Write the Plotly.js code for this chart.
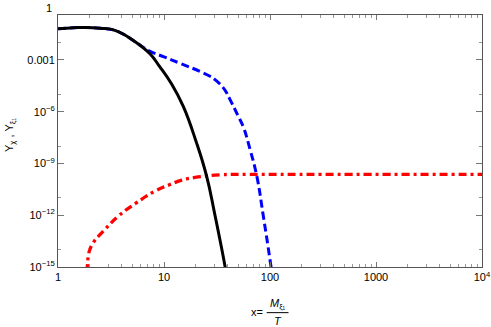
<!DOCTYPE html>
<html>
<head>
<meta charset="utf-8">
<script src="https://cdn.plot.ly/plotly-3.0.1.min.js"></script>
<style>html,body{margin:0;padding:0;background:#fff;}#chart{width:491px;height:327px;}</style>
</head>
<body>
<div id="chart"></div>
<script>
// Black solid curve (equilibrium abundance)
const blackX = [1, 1.4, 1.8, 2.5, 3.5, 5.3, 7.4, 9, 11.8, 15.2, 20, 25.2, 30, 37.6, 39];
const blackY = [0.063, 0.072, 0.076, 0.068, 0.05, 0.0117, 2.2e-3, 4.5e-4, 4e-5, 2e-6, 2e-8, 1.9e-10, 1.3e-12, 1.15e-15, 3e-16];

// Blue dashed curve
const blueX = [1, 1.4, 1.8, 2.5, 3.5, 5.3, 6.2, 7.4, 10, 14.2, 22, 27.2, 30.5, 33.7, 38, 42, 50.2, 56, 64.8, 75, 86.5, 102, 105];
const blueY = [0.063, 0.072, 0.076, 0.068, 0.05, 0.0117, 6.0e-3, 3.1e-3, 1.5e-3, 6.3e-4, 2.1e-4, 1.12e-4, 7e-5, 4e-5, 1.6e-5, 5e-6, 5.4e-7, 1.3e-7, 6.5e-9, 1.9e-10, 8.9e-13, 1.15e-15, 3e-16];

// Red dash-dot curve
const redX = [1.862, 1.892, 1.932, 1.995, 2.153, 2.773, 3.707, 5.433, 8.222, 11.40, 14.69, 21.88, 33.88, 63.1, 316, 10000];
const redY = [5e-16, 1.15e-15, 4.4e-15, 1e-14, 2.6e-14, 1.5e-13, 8.9e-13, 5e-12, 2.5e-11, 6e-11, 1.07e-10, 1.7e-10, 2.2e-10, 2.3e-10, 2.3e-10, 2.3e-10];

// Tick labels
const xTickVals = [1, 10, 100, 1000, 10000];
const xTickText = ['1', '10', '100', '1000', '10<sup>4</sup>'];
const yTickVals = [1e-3, 1e-6, 1e-9, 1e-12, 1e-15];
const yTickText = ['0.001', '10<sup>−6</sup>', '10<sup>−9</sup>', '10<sup>−12</sup>', '10<sup>−15</sup>'];
const xMinor = [];
[1, 10, 100, 1000].forEach(d => { for (let k = 2; k <= 9; k++) xMinor.push(d * k); });
const yMinor = [1e-2, 1e-5, 1e-8, 1e-11, 1e-14];

const traces = [
  {x: blueX, y: blueY, mode: 'lines', line: {color: '#0000ff', width: 3, dash: '8px,4px', shape: 'spline', smoothing: 1.3}, cliponaxis: true},
  {x: redX, y: redY, mode: 'lines', line: {color: '#ff0000', width: 3.3, dash: '8px,4px,3px,4px', shape: 'spline', smoothing: 1.3}, cliponaxis: true},
  {x: blackX, y: blackY, mode: 'lines', line: {color: '#000000', width: 3, shape: 'spline', smoothing: 1.3}, cliponaxis: true}
];

const FONT = 'Liberation Sans, Arial, sans-serif';
const yr = [-15, -0.4];
const layout = {
  width: 491, height: 327,
  margin: {l: 58, r: 9, t: 15, b: 60},
  paper_bgcolor: '#fff', plot_bgcolor: '#fff',
  showlegend: false,
  font: {family: FONT, size: 11, color: '#000'},
  xaxis: {
    type: 'log', range: [0, 4], showgrid: false, zeroline: false,
    showline: true, linecolor: '#555', linewidth: 1, mirror: 'ticks',
    ticks: 'inside', ticklen: 5, tickcolor: '#777', tickwidth: 1,
    tickvals: xTickVals, ticktext: xTickText,
    tickfont: {family: FONT, size: 11, color: '#000'},
    minor: {tickvals: xMinor, ticks: 'inside', ticklen: 3, tickcolor: '#999', tickwidth: 1, showgrid: false}
  },
  yaxis: {
    type: 'log', range: yr, showgrid: false, zeroline: false,
    showline: true, linecolor: '#555', linewidth: 1, mirror: 'ticks',
    ticks: 'inside', ticklen: 6, tickcolor: '#777', tickwidth: 1,
    tickvals: yTickVals, ticktext: yTickText,
    tickfont: {family: FONT, size: 11, color: '#000'},
    minor: {tickvals: yMinor, ticks: 'inside', ticklen: 3, tickcolor: '#999', tickwidth: 1, showgrid: false}
  },
  annotations: [
    {text: '1', xref: 'paper', yref: 'paper', x: 0, y: (0 - yr[0]) / (yr[1] - yr[0]), xanchor: 'right', yanchor: 'middle', xshift: -4, showarrow: false, font: {family: FONT, size: 11, color: '#000'}},
    {text: 'Y<sub>χ</sub> , Y<sub>ξ₁</sub>', xref: 'paper', yref: 'paper', x: -0.113, y: 0.524, textangle: -90, xanchor: 'center', yanchor: 'middle', showarrow: false, font: {family: FONT, size: 11, color: '#000'}},
    {text: 'x=', xref: 'paper', yref: 'paper', x: (257 - 58) / 424, y: (267.3 - 312) / 252.3, xanchor: 'center', yanchor: 'middle', showarrow: false, font: {family: FONT, size: 11, color: '#000'}},
    {text: '<i>M</i><sub>ξ₁</sub>', xref: 'paper', yref: 'paper', x: (278 - 58) / 424, y: (267.3 - 304) / 252.3, xanchor: 'center', yanchor: 'middle', showarrow: false, font: {family: FONT, size: 11, color: '#000'}},
    {text: '<i>T</i>', xref: 'paper', yref: 'paper', x: (277.5 - 58) / 424, y: (267.3 - 321.5) / 252.3, xanchor: 'center', yanchor: 'middle', showarrow: false, font: {family: FONT, size: 11, color: '#000'}}
  ],
  shapes: [
    {type: 'line', xref: 'paper', yref: 'paper', x0: (266.7 - 58) / 424, x1: (288.5 - 58) / 424, y0: (267.3 - 313) / 252.3, y1: (267.3 - 313) / 252.3, line: {color: '#000', width: 1}}
  ]
};

Plotly.newPlot('chart', traces, layout, {staticPlot: true, displayModeBar: false});
</script>
</body>
</html>
